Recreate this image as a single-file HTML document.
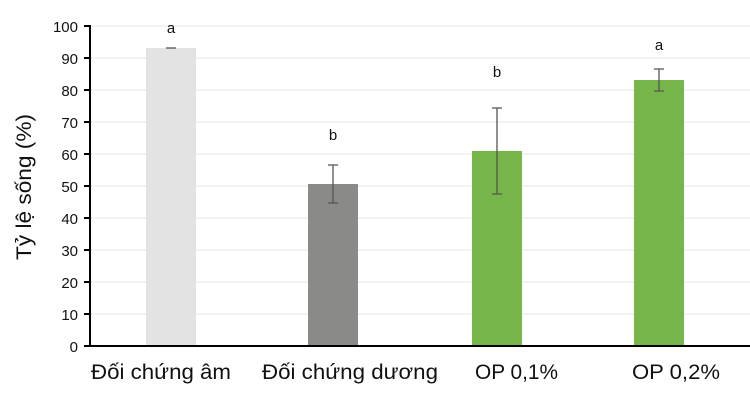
<!DOCTYPE html>
<html><head><meta charset="utf-8"><style>body{margin:0;background:#fff}svg{display:block}</style></head><body>
<svg width="750" height="410" xmlns="http://www.w3.org/2000/svg" font-family="Liberation Sans, DejaVu Sans, sans-serif">
<g stroke="#e4e4e4" stroke-width="1">
<line x1="90" x2="750" y1="26" y2="26"/><line x1="90" x2="750" y1="58" y2="58"/><line x1="90" x2="750" y1="90" y2="90"/><line x1="90" x2="750" y1="122" y2="122"/><line x1="90" x2="750" y1="154" y2="154"/><line x1="90" x2="750" y1="186" y2="186"/><line x1="90" x2="750" y1="218" y2="218"/><line x1="90" x2="750" y1="250" y2="250"/><line x1="90" x2="750" y1="282" y2="282"/><line x1="90" x2="750" y1="314" y2="314"/>
</g>
<rect x="146" y="48" width="50" height="298" fill="#e3e3e3"/>
<rect x="308" y="184" width="50" height="162" fill="#8a8a89"/>
<rect x="472" y="151" width="50" height="195" fill="#76b54a"/>
<rect x="634" y="80" width="50" height="266" fill="#76b54a"/>
<g stroke="#555" stroke-width="1.3" fill="none">
<path d="M166 48h10"/>
<path d="M333 165v38M328 165h10M328 203h10"/>
<path d="M497 108v86M492 108h10M492 194h10"/>
<path d="M659 69v22M654 69h10M654 91h10"/>
</g>
<g font-size="15" text-anchor="middle" fill="#111">
<text x="171" y="33">a</text><text x="333" y="140">b</text><text x="497" y="77">b</text><text x="659" y="50">a</text>
</g>
<g stroke="#000" stroke-width="2">
<line x1="90" y1="25" x2="90" y2="347"/><line x1="89" y1="346" x2="750" y2="346"/>
<path d="M84 26h6M84 58h6M84 90h6M84 122h6M84 154h6M84 186h6M84 218h6M84 250h6M84 282h6M84 314h6M84 346h6"/>
</g>
<g font-size="15" text-anchor="end" fill="#111">
<text x="78" y="32">100</text><text x="78" y="64">90</text><text x="78" y="96">80</text><text x="78" y="128">70</text><text x="78" y="160">60</text><text x="78" y="192">50</text><text x="78" y="224">40</text><text x="78" y="256">30</text><text x="78" y="288">20</text><text x="78" y="320">10</text><text x="78" y="352">0</text>
</g>
<text transform="translate(31,187) rotate(-90)" font-size="21" text-anchor="middle" fill="#111" textLength="146" lengthAdjust="spacingAndGlyphs">Tỷ lệ sống (%)</text>
<g font-size="21" fill="#111">
<text x="91" y="379" textLength="140" lengthAdjust="spacingAndGlyphs">Đối chứng âm</text>
<text x="262" y="379" textLength="176" lengthAdjust="spacingAndGlyphs">Đối chứng dương</text>
<text x="475" y="379" textLength="83" lengthAdjust="spacingAndGlyphs">OP 0,1%</text>
<text x="632" y="379" textLength="88" lengthAdjust="spacingAndGlyphs">OP 0,2%</text>
</g>
</svg>
</body></html>
